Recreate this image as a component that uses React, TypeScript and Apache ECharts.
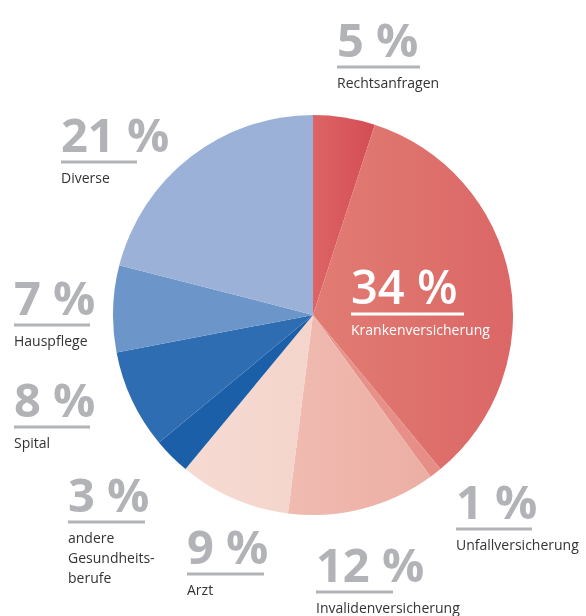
import React, { useEffect, useRef } from "react";
import * as echarts from "echarts";

const categories = [
  "Rechtsanfragen",
  "Krankenversicherung",
  "Unfallversicherung",
  "Invalidenversicherung",
  "Arzt",
  "andere Gesundheitsberufe",
  "Spital",
  "Hauspflege",
  "Diverse",
];
const values = [5, 34, 1, 12, 9, 3, 8, 7, 21];
const labelLines = [
  ["Rechtsanfragen"],
  ["Krankenversicherung"],
  ["Unfallversicherung"],
  ["Invalidenversicherung"],
  ["Arzt"],
  ["andere", "Gesundheits-", "berufe"],
  ["Spital"],
  ["Hauspflege"],
  ["Diverse"],
];
const colorsLeft = ["#dd6565", "#e17c73", "#e8938c", "#f0bbb1", "#f6dbd3", "#1b5fa8", "#2f6db2", "#6c95c9", "#9cb1d8"];
const colorsRight = ["#d44c55", "#db6766", "#e68d86", "#ecaea4", "#f4d4cb", "#1b5fa8", "#2f6db2", "#6c95c9", "#9cb1d8"];

// layout (label top-left, underline width)
const labelPos = [
  [337, 16],
  [351, 263],
  [456, 478],
  [316, 541],
  [187, 523],
  [68, 471],
  [14, 376],
  [14, 274],
  [61, 111],
];
const ruleWidth = [83, 113, 76, 77, 77, 77, 76, 76, 76];

export default function App() {
  const ref = useRef<HTMLDivElement>(null);
  useEffect(() => {
    if (!ref.current) return;
    const chart = echarts.init(ref.current, null, { renderer: "svg" });
    const data = categories.map((name, i) => {
      const white = i === 1;
      const txt = white ? "#ffffff" : "#b2b3b7";
      return {
        name,
        value: values[i],
        itemStyle: {
          color: new echarts.graphic.LinearGradient(0, 0, 1, 0, [
            { offset: 0, color: colorsLeft[i] },
            { offset: 1, color: colorsRight[i] },
          ]),
        },
        label: {
          formatter:
            `{p|${values[i]} %}\n{hr|}\n` +
            labelLines[i].map((l) => `{n|${l}}`).join("\n"),
          rich: {
            p: {
              fontFamily: "Open Sans",
              fontWeight: white ? 600 : 700,
              fontSize: 47,
              lineHeight: 46,
              color: txt,
            },
            hr: {
              width: ruleWidth[i],
              height: 3,
              lineHeight: 10,
              backgroundColor: txt,
            },
            n: {
              fontFamily: "Open Sans",
              fontSize: 14,
              lineHeight: 20,
              color: white ? "#ffffff" : "#333333",
            },
          },
        },
      };
    });
    chart.setOption({
      animation: false,
      series: [
        {
          type: "pie",
          center: [313, 315],
          radius: 200,
          startAngle: 90,
          clockwise: true,
          avoidLabelOverlap: false,
          data,
          itemStyle: { borderWidth: 0 },
          label: { show: true, position: "outside", align: "left" },
          labelLine: { show: false },
          labelLayout: (params: any) => {
            const p = labelPos[params.dataIndex];
            return { x: p[0], y: p[1], align: "left", verticalAlign: "top" };
          },
          emphasis: { disabled: true },
        },
      ],
    });
    return () => chart.dispose();
  }, []);
  return (
    <div
      ref={ref}
      style={{ position: "fixed", left: 0, top: 0, width: 586, height: 616 }}
    />
  );
}
